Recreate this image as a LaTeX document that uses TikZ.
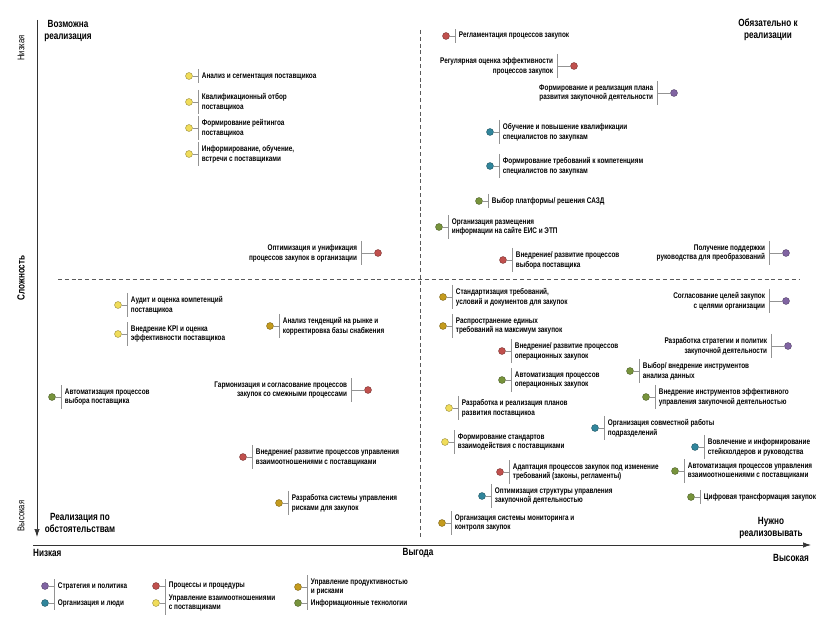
\documentclass[tikz,border=0pt]{standalone}
\usepackage{fontspec}
\setmainfont{Liberation Sans}[FakeStretch=0.78]
\usetikzlibrary{positioning,arrows.meta}

\definecolor{cStrat}{RGB}{128,100,162}
\definecolor{cOrga}{RGB}{49,133,155}
\definecolor{cProc}{RGB}{192,80,77}
\definecolor{cRel}{RGB}{240,220,90}
\definecolor{cProd}{RGB}{196,155,30}
\definecolor{cTech}{RGB}{119,147,60}

\tikzset{
	point/.style={circle,inner sep=0pt,minimum size=2.1mm,fill=#1,draw=#1!60!black,line width=0.3pt},
	etiq/.style={font=\fontsize{7}{8.4}\selectfont\bfseries,inner xsep=1.1mm,inner ysep=2.6pt},
	lien/.style={draw=gray!85,line width=0.5pt},
	titre/.style={font=\fontsize{8.9}{10}\selectfont\bfseries,align=center},
	axe/.style={font=\fontsize{8.9}{10}\selectfont\bfseries},
	quadrant/.style={draw=gray!70!black,line width=0.5pt,dash pattern=on 3.4pt off 2.4pt},
}

\begin{document}
\begin{tikzpicture}[x=0.3mm,y=-0.3mm]
\useasboundingbox (0,0) rectangle (840,624);
%					Tracé des axes :
\coordinate (hautY) at (37,20);
\coordinate (basY) at (37,537);
\coordinate (gaucheX) at (33,545);
\coordinate (droiteX) at (811,545);
\draw[gray!40!black,line width=0.6pt,-{Latex[length=2.4mm,width=1.6mm]}] (hautY) -- (basY);
\draw[gray!40!black,line width=0.6pt,-{Latex[length=2.4mm,width=1.6mm]}] (gaucheX) -- (droiteX);
%					Tracé des quadrants :
\coordinate (hautQ) at (420,30);
\coordinate (basQ) at (420,537);
\coordinate (gaucheQ) at (58,279);
\coordinate (droiteQ) at (800,279);
\draw[quadrant] (hautQ) -- (basQ);
\draw[quadrant] (gaucheQ) -- (droiteQ);
%					Légendes des axes :
\node[rotate=90,font=\fontsize{8.3}{9}\selectfont] (faible) at (21,48) {Низкая};
\node[rotate=90,axe] (complexite) at (21,278) {Сложность};
\node[rotate=90,font=\fontsize{8.3}{9}\selectfont] (forte) at (21,516) {Высокая};
\node[axe,anchor=west,inner sep=0pt] (peu) at (33,553) {Низкая};
\node[axe] (benefice) at (418,553) {Выгода};
\node[axe] (beaucoup) at (791,558) {Высокая};
%					Titres des quadrants :
\node[titre] (possible) at (68,31) {Возможна\\реализация};
\node[titre] (obligatoire) at (768,30) {Обязательно к\\реализации};
\node[titre] (circonstances) at (80,523) {Реализация по\\обстоятельствам};
\node[titre] (necessaire) at (771,528) {Нужно\\реализовывать};
%					Mesures, texte à droite :
\foreach \nom/\x/\y/\coul/\txt in {
	1/189/76/cRel/{Анализ и сегментация поставщикоа},
	2/189/102/cRel/{Квалификационный отбор\\поставщикоа},
	3/189/128/cRel/{Формирование рейтингоа\\поставщикоа},
	4/189/154/cRel/{Информирование, обучение,\\встречи с поставщиками},
	5/118/305/cRel/{Аудит и оценка компетенций\\поставщикоа},
	6/118/334/cRel/{Внедрение KPI и оценка\\эффективности поставщикоа},
	7/270/326/cProd/{Анализ тенденций на рынке и\\корректировка базы снабжения},
	8/52/397/cTech/{Автоматизация процессов\\выбора поставщика},
	9/243/457/cProc/{Внедрение/ развитие процессов управления\\взаимоотношениями с поставщиками},
	10/279/503/cProd/{Разработка системы управления\\рисками для закупок},
	11/446/36/cProc/{Регламентация процессов закупок},
	12/490/132/cOrga/{Обучение и повышение квалификации\\специалистов по закупкам},
	13/490/166/cOrga/{Формирование требований к компетенциям\\специалистов по закупкам},
	14/479/201/cTech/{Выбор платформы/ решения САЗД},
	15/439/227/cTech/{Организация размещения\\информации на сайте ЕИС и ЭТП},
	16/503/260/cProc/{Внедрение/ развитие процессов\\выбора поставщика},
	17/443/297/cProd/{Стандартизация требований,\\условий и документов для закупок},
	18/443/326/cProd/{Распространение единых\\требований на максимум закупок},
	19/502/351/cProc/{Внедрение/ развитие процессов\\операционных закупок},
	20/502/380/cTech/{Автоматизация процессов\\операционных закупок},
	21/630/371/cTech/{Выбор/ внедрение инструментов\\анализа данных},
	22/646/397/cTech/{Внедрение инструментов эффективного\\управления закупочной деятельностью},
	23/449/408/cRel/{Разработка и реализация планов\\развития поставщикоа},
	24/595/428/cOrga/{Организация совместной работы\\подразделений},
	25/445/442/cRel/{Формирование стандартов\\взаимодействия с поставщиками},
	26/695/447/cOrga/{Вовлечение и информирование\\стейкхолдеров и руководства},
	27/500/472/cProc/{Адаптация процессов закупок под изменение\\требований (законы, регламенты)},
	28/675/471/cTech/{Автоматизация процессов управления\\взаимоотношениями с поставщиками},
	29/482/496/cOrga/{Оптимизация структуры управления\\закупочной деятельностью},
	30/691/497/cTech/{Цифровая трансформация закупок},
	31/442/523/cProd/{Организация системы мониторинга и\\контроля закупок}}{
	\node[point=\coul] (d\nom) at (\x,\y) {};
	\node[etiq,align=left,right=1.6mm of d\nom] (t\nom) {\txt};
	\draw[lien] (d\nom) -- (t\nom.west);
	\draw[lien] (t\nom.north west) -- (t\nom.south west);
}
%					Mesures, texte à gauche :
\foreach \nom/\x/\y/\coul/\txt in {
	1/378/253/cProc/{Оптимизация и унификация\\процессов закупок в организации},
	2/368/390/cProc/{Гармонизация и согласование процессов\\закупок со смежными процессами},
	3/574/66/cProc/{Регулярная оценка эффективности\\процессов закупок},
	4/674/93/cStrat/{Формирование и реализация плана\\развития закупочной деятельности},
	5/786/253/cStrat/{Получение поддержки\\руководства для преобразований},
	6/786/301/cStrat/{Согласование целей закупок\\с целями организации},
	7/788/346/cStrat/{Разработка  стратегии и политик\\закупочной деятельности}}{
	\node[point=\coul] (dg\nom) at (\x,\y) {};
	\node[etiq,align=right,left=4mm of dg\nom] (tg\nom) {\txt};
	\draw[lien] (dg\nom) -- (tg\nom.east);
	\draw[lien] (tg\nom.north east) -- (tg\nom.south east);
}
%					Légende :
\foreach \nom/\x/\y/\coul/\txt in {
	1/45/586/cStrat/{Стратегия и политика},
	2/45/603/cOrga/{Организация и люди},
	3/156/586/cProc/{Процессы и процедуры},
	4/156/603/cRel/{Управление взаимоотношениями\\с поставщиками},
	5/298/587/cProd/{Управление продуктивностью\\и рисками},
	6/298/603/cTech/{Информационные технологии}}{
	\node[point=\coul] (dl\nom) at (\x,\y) {};
	\node[etiq,align=left,right=1.6mm of dl\nom] (tl\nom) {\txt};
	\draw[lien] (dl\nom) -- (tl\nom.west);
}
\draw[lien] (tl1.north west) -- (tl2.south west);
\draw[lien] (tl3.north west) -- (tl4.south west);
\draw[lien] (tl5.north west) -- (tl6.south west);
\end{tikzpicture}
\end{document}
